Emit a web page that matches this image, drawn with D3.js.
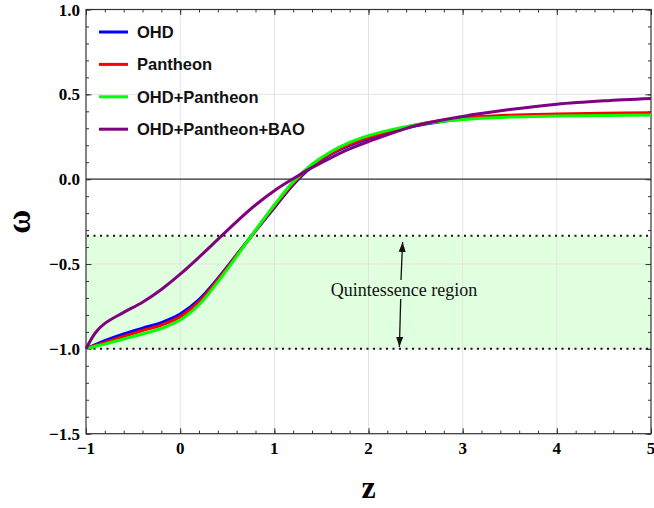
<!DOCTYPE html>
<html>
<head>
<meta charset="utf-8">
<script src="https://cdn.jsdelivr.net/npm/d3@7"></script>
<style>
  html, body { margin: 0; padding: 0; background: #fff; }
  svg { display: block; }
</style>
</head>
<body>
<div id="chart"></div>
<script>
// Redshift samples shared by every curve
const zValues = [-1, -0.9, -0.8, -0.6, -0.4, -0.2, 0, 0.2, 0.4, 0.6, 0.8, 1.0,
  1.2, 1.4, 1.6, 1.8, 2.0, 2.5, 3.0, 3.5, 4.0, 4.5, 5.0];

// w(z) for each dataset
const wOHD = [-1.0, -0.975, -0.952, -0.912, -0.878, -0.845, -0.795, -0.71, -0.585, -0.445, -0.305, -0.168,
  -0.032, 0.075, 0.148, 0.2, 0.24, 0.315, 0.355, 0.372, 0.38, 0.384, 0.386];
const wPantheon = [-1.0, -0.98, -0.962, -0.926, -0.892, -0.86, -0.81, -0.722, -0.592, -0.448, -0.303, -0.162,
  -0.026, 0.08, 0.152, 0.205, 0.245, 0.32, 0.36, 0.377, 0.384, 0.388, 0.391];
const wOHDPantheon = [-1.0, -0.985, -0.972, -0.942, -0.912, -0.88, -0.83, -0.74, -0.605, -0.455, -0.3, -0.152,
  -0.016, 0.088, 0.162, 0.217, 0.257, 0.32, 0.352, 0.366, 0.372, 0.376, 0.378];
const wBAO = [-1.0, -0.905, -0.85, -0.785, -0.725, -0.65, -0.56, -0.46, -0.355, -0.25, -0.152, -0.068,
  0.003, 0.068, 0.126, 0.178, 0.222, 0.315, 0.37, 0.41, 0.442, 0.462, 0.476];

const seriesNames = ['OHD', 'Pantheon', 'OHD+Pantheon', 'OHD+Pantheon+BAO'];
const seriesColors = ['#0000ff', '#ff0000', '#00ff00', '#800080'];
const seriesValues = [wOHD, wPantheon, wOHDPantheon, wBAO];

const xTicks = [-1, 0, 1, 2, 3, 4, 5];
const yTicks = [-1.5, -1.0, -0.5, 0.0, 0.5, 1.0];
const quintessence = [-1, -1 / 3];

const width = 654;
const height = 508;

const svg = d3.select('#chart')
  .append('svg')
  .attr('width', width)
  .attr('height', height);

const x = d3.scaleLinear().domain([-1, 5]).range([86, 651]);
const y = d3.scaleLinear().domain([-1.5, 1]).range([433.7, 9.5]);

const [x0, x1] = x.range();
const [yBot, yTop] = y.range();

// quintessence band
svg.append('rect')
  .attr('x', x0)
  .attr('y', y(quintessence[1]))
  .attr('width', x1 - x0)
  .attr('height', y(quintessence[0]) - y(quintessence[1]))
  .attr('fill', '#dfffdf');

// grid lines
svg.append('g')
  .selectAll('line')
  .data(xTicks.slice(1, -1))
  .join('line')
  .attr('x1', d => x(d)).attr('x2', d => x(d))
  .attr('y1', yTop).attr('y2', yBot)
  .attr('stroke', '#e3e3e3')
  .attr('stroke-width', 1);

svg.append('g')
  .selectAll('line')
  .data(yTicks.slice(1, -1))
  .join('line')
  .attr('x1', x0).attr('x2', x1)
  .attr('y1', d => y(d)).attr('y2', d => y(d))
  .attr('stroke', '#e3e3e3')
  .attr('stroke-width', 1);

// dotted bounds of the band
svg.append('g')
  .selectAll('line')
  .data(quintessence)
  .join('line')
  .attr('x1', x0 + 1).attr('x2', x1)
  .attr('y1', d => y(d)).attr('y2', d => y(d))
  .attr('stroke', '#111')
  .attr('stroke-width', 2)
  .attr('stroke-dasharray', '2 4.5');

// w = 0 line
svg.append('line')
  .attr('x1', x0).attr('x2', x1)
  .attr('y1', y(0)).attr('y2', y(0))
  .attr('stroke', '#333')
  .attr('stroke-width', 1.2);

// frame axes with inward ticks
const axisColor = '#333';
function styleAxis(g) {
  g.select('.domain').remove();
  g.selectAll('.tick line').attr('stroke', axisColor);
  g.selectAll('text').remove();
}
const xMinor = d3.range(-1, 5.001, 0.2);
const yMinor = d3.range(-1.5, 1.001, 0.1);

[[d3.axisTop, yBot], [d3.axisBottom, yTop]].forEach(([ax, pos]) => {
  svg.append('g').attr('transform', `translate(0,${pos})`)
    .call(ax(x).tickValues(xMinor).tickSize(3).tickFormat(''))
    .call(styleAxis);
  svg.append('g').attr('transform', `translate(0,${pos})`)
    .call(ax(x).tickValues(xTicks).tickSize(5.5).tickFormat(''))
    .call(styleAxis);
});
[[d3.axisRight, x0], [d3.axisLeft, x1]].forEach(([ax, pos]) => {
  svg.append('g').attr('transform', `translate(${pos},0)`)
    .call(ax(y).tickValues(yMinor).tickSize(3).tickFormat(''))
    .call(styleAxis);
  svg.append('g').attr('transform', `translate(${pos},0)`)
    .call(ax(y).tickValues(yTicks).tickSize(5.5).tickFormat(''))
    .call(styleAxis);
});

svg.append('rect')
  .attr('x', x0).attr('y', yTop)
  .attr('width', x1 - x0).attr('height', yBot - yTop)
  .attr('fill', 'none')
  .attr('stroke', axisColor)
  .attr('stroke-width', 1.2);

// tick labels
const fmtMinus = s => s.replace('-', '\u2212');
svg.append('g')
  .selectAll('text')
  .data(xTicks)
  .join('text')
  .attr('x', d => x(d))
  .attr('y', 454)
  .attr('text-anchor', 'middle')
  .style('font-family', '"Liberation Serif", "Times New Roman", serif')
  .style('font-weight', 'bold')
  .style('font-size', '17px')
  .text(d => fmtMinus(String(d)));

svg.append('g')
  .selectAll('text')
  .data(yTicks)
  .join('text')
  .attr('x', 80)
  .attr('y', d => y(d) + 6)
  .attr('text-anchor', 'end')
  .style('font-family', '"Liberation Serif", "Times New Roman", serif')
  .style('font-weight', 'bold')
  .style('font-size', '17px')
  .text(d => fmtMinus(d3.format('.1f')(d)));

// axis titles
svg.append('text')
  .attr('x', (x0 + x1) / 2)
  .attr('y', 498)
  .attr('text-anchor', 'middle')
  .style('font-family', '"Liberation Serif", "Times New Roman", serif')
  .style('font-weight', 'bold')
  .style('font-size', '32px')
  .text('z');

svg.append('text')
  .attr('transform', `translate(30,${(yTop + yBot) / 2}) rotate(-90)`)
  .attr('text-anchor', 'middle')
  .style('font-family', '"Liberation Serif", "Times New Roman", serif')
  .style('font-weight', 'bold')
  .style('font-size', '33px')
  .text('\u03c9');

// curves
const line = d3.line()
  .x(d => x(d[0]))
  .y(d => y(d[1]))
  .curve(d3.curveCatmullRom.alpha(0.5));

seriesValues.forEach((vals, i) => {
  svg.append('path')
    .datum(zValues.map((z, j) => [z, vals[j]]))
    .attr('d', line)
    .attr('fill', 'none')
    .attr('stroke', seriesColors[i])
    .attr('stroke-width', 3);
});

// quintessence annotation
svg.append('defs').append('marker')
  .attr('id', 'arrow')
  .attr('viewBox', '0 0 10 10')
  .attr('refX', 10).attr('refY', 5)
  .attr('markerWidth', 10).attr('markerHeight', 10)
  .attr('markerUnits', 'userSpaceOnUse')
  .attr('orient', 'auto')
  .append('path')
  .attr('d', 'M0,1.5 L10,5 L0,8.5 Z')
  .attr('fill', '#111');

svg.append('text')
  .attr('x', 404)
  .attr('y', 296)
  .attr('text-anchor', 'middle')
  .style('font-family', '"Liberation Serif", "Times New Roman", serif')
  .style('font-size', '18px')
  .attr('fill', '#111')
  .text('Quintessence region');

svg.append('line')
  .attr('x1', 401).attr('y1', 280)
  .attr('x2', 402.6).attr('y2', 242)
  .attr('stroke', '#111').attr('stroke-width', 1.3)
  .attr('marker-end', 'url(#arrow)');
svg.append('line')
  .attr('x1', 400.7).attr('y1', 299)
  .attr('x2', 399.4).attr('y2', 347)
  .attr('stroke', '#111').attr('stroke-width', 1.3)
  .attr('marker-end', 'url(#arrow)');

// legend
const legend = svg.append('g').attr('class', 'legend');
seriesNames.forEach((name, i) => {
  const cy = 32 + i * 32.4;
  legend.append('line')
    .attr('x1', 99).attr('x2', 128)
    .attr('y1', cy).attr('y2', cy)
    .attr('stroke', seriesColors[i])
    .attr('stroke-width', 3);
  legend.append('text')
    .attr('x', 137)
    .attr('y', cy + 6)
    .style('font-family', '"Liberation Sans", Arial, sans-serif')
    .style('font-weight', 'bold')
    .style('font-size', '16.5px')
    .attr('fill', '#111')
    .text(name);
});
</script>
</body>
</html>
